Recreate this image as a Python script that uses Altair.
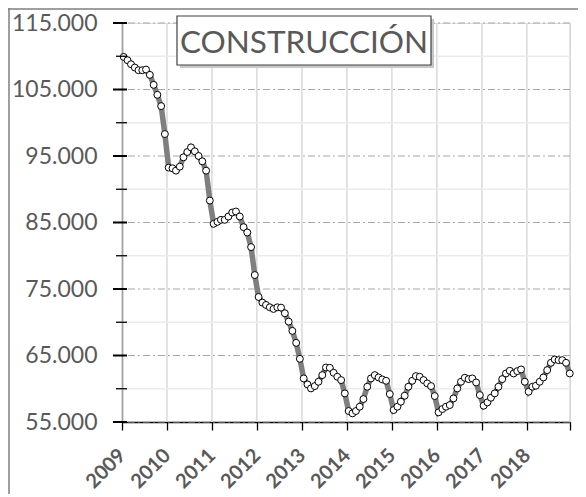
import altair as alt
import pandas as pd

years = list(range(2009, 2019))

v2009 = [109900, 109400, 108800, 108300, 107900, 107900, 108000, 107200, 105700, 104200, 102500, 98300]
v2010 = [93250, 93150, 92800, 93400, 94800, 95600, 96300, 95700, 95000, 94200, 92800, 88300]
v2011 = [84800, 85100, 85400, 85400, 85900, 86500, 86650, 85900, 84300, 83500, 81300, 77100]
v2012 = [73800, 72950, 72600, 72250, 72000, 72250, 72200, 71350, 70100, 68700, 66900, 64500]
v2013 = [61550, 60650, 60050, 60400, 61050, 62050, 63200, 63150, 62400, 61800, 61300, 59300]
v2014 = [56650, 56300, 56650, 57300, 58450, 60300, 61550, 62050, 61700, 61400, 61200, 59200]
v2015 = [56800, 57300, 58050, 58950, 60300, 61200, 61900, 61800, 61300, 60800, 60400, 58900]
v2016 = [56450, 56950, 57300, 57550, 58550, 60050, 61050, 61650, 61450, 61550, 60950, 59050]
v2017 = [57450, 57950, 58650, 59300, 60300, 61450, 62300, 62700, 62300, 62650, 62900, 61050]
v2018 = [59550, 60300, 60450, 61050, 61700, 62800, 63900, 64400, 64300, 64300, 63900, 62300]

values = v2009 + v2010 + v2011 + v2012 + v2013 + v2014 + v2015 + v2016 + v2017 + v2018
dates = [f"{y}-{m:02d}-15" for y in years for m in range(1, 13)]

major_y = [55000, 65000, 75000, 85000, 95000, 105000, 115000]
minor_y = [60000, 70000, 80000, 90000, 100000, 110000]
grid_dates = [f"{y}-01-01" for y in years] + ["2018-12-17"]
title_text = "CONSTRUCCIÓN"

df = pd.DataFrame({"fecha": dates, "valor": values})
gx = pd.DataFrame({"fecha": grid_dates})
gmaj = pd.DataFrame({"valor": major_y})
gmin = pd.DataFrame({"valor": minor_y})
one = pd.DataFrame({"t": [title_text]})

FONT = "Lato"
GREY = "#595959"

x_scale = alt.Scale(
    type="utc",
    domain=[alt.DateTime(year=2009, month=1, date=1, utc=True),
            alt.DateTime(year=2018, month=12, date=17, utc=True)],
    nice=False,
)
y_scale = alt.Scale(domain=[55000, 115000], nice=False, zero=False)

tick_vals = [alt.DateTime(year=y, month=1, date=1, utc=True) for y in years] + [
    alt.DateTime(year=2018, month=12, date=17, utc=True)
]

x_axis = alt.Axis(
    values=tick_vals,
    labelExpr="utcmonth(datum.value) == 0 ? utcFormat(datum.value, '%Y') : ''",
    tickSize=8, tickColor="black", tickWidth=1.3,
    domainColor="black", domainWidth=1.3,
    grid=False,
    labelAngle=-45, labelAlign="right", labelBaseline="middle",
    labelFont=FONT, labelFontWeight="bold", labelFontSize=20, labelColor=GREY,
    labelPadding=22, labelOverlap=False, labelFlush=False, title=None,
)
y_axis = alt.Axis(
    values=major_y,
    labelExpr="replace(format(datum.value, ',.0f'), ',', '.')",
    tickSize=0, labelPadding=25,
    domainColor="black", domainWidth=1.3,
    grid=False,
    labelFont=FONT, labelFontSize=23, labelColor=GREY,
    labelOverlap=False, labelFlush=False, title=None,
)

X = alt.X("fecha:T", scale=x_scale, axis=x_axis)
Y = alt.Y("valor:Q", scale=y_scale, axis=y_axis)

left_border = alt.Chart(one).mark_rule(color="#7f7f7f", strokeWidth=1.5).encode(
    x=alt.value(-113), y=alt.value(-15), y2=alt.value(490)
)
top_border = alt.Chart(one).mark_rule(color="#7f7f7f", strokeWidth=1.5).encode(
    x=alt.value(-114), x2=alt.value(460), y=alt.value(-14)
)

vgrid = alt.Chart(gx).mark_rule(color="#d9d9d9", strokeWidth=1.5).encode(x=X)
mingrid = alt.Chart(gmin).mark_rule(color="#ebebeb", strokeWidth=1.3).encode(y=Y)
majgrid = alt.Chart(gmaj).mark_rule(color="#a6a6a6", strokeWidth=1.2, strokeDash=[7, 3, 2, 3]).encode(y=Y)

shadow = alt.Chart(one).mark_rect(fill="#c8c8c8").encode(
    x=alt.value(58), x2=alt.value(312), y=alt.value(-4), y2=alt.value(45)
)
box = alt.Chart(one).mark_rect(fill="white", stroke="#404040", strokeWidth=1.2).encode(
    x=alt.value(55), x2=alt.value(309), y=alt.value(-7), y2=alt.value(42)
)
title = alt.Chart(one).mark_text(
    font=FONT, fontSize=31.5, color=GREY, align="center", baseline="alphabetic"
).encode(x=alt.value(182), y=alt.value(30), text="t:N")

line = alt.Chart(df).mark_line(color="#7f7f7f", strokeWidth=5.5).encode(x=X, y=Y)
points = alt.Chart(df).mark_point(
    shape="circle", filled=True, fill="white", stroke="black", strokeWidth=1, size=48, opacity=1
).encode(x=X, y=Y)

maj_ticks = alt.Chart(gmaj).mark_rule(color="black", strokeWidth=2).encode(
    y=Y, x=alt.value(-9), x2=alt.value(5)
)
min_ticks = alt.Chart(gmin).mark_rule(color="black", strokeWidth=1.3).encode(
    y=Y, x=alt.value(-6), x2=alt.value(5)
)

chart = alt.layer(
    left_border, top_border, vgrid, mingrid, majgrid, shadow, box, title, line, points, maj_ticks, min_ticks
).properties(
    width=448, height=399,
    autosize=alt.AutoSizeParams(type="none"),
    padding={"left": 114, "top": 15, "right": 8, "bottom": 72},
).configure_view(strokeWidth=0).configure(background="white")

chart.save("out.html", embed_options={"renderer": "svg", "actions": False})
